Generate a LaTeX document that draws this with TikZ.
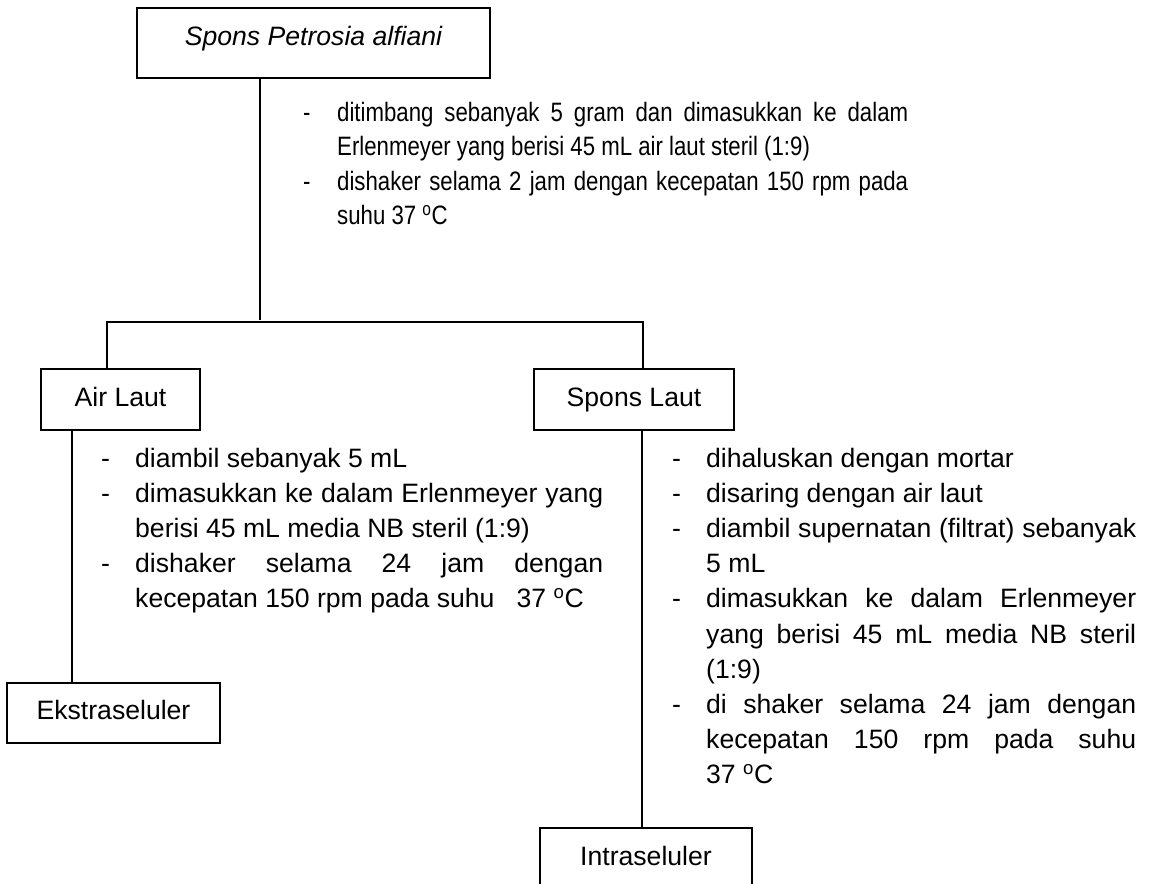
\documentclass[tikz,border=0pt]{standalone}
\usepackage{fontspec}
\setmainfont{Liberation Sans}
\newfontfamily\condfont[FakeStretch=0.835]{Liberation Sans}
\newlength{\dashw}\setlength{\dashw}{36pt}
\newlength{\tw}
\newcommand{\stJfirst}[1]{\noindent\makebox[\dashw][l]{\hspace{2pt}-}\makebox[\tw][s]{#1}\par}
\newcommand{\stJcont}[1]{\noindent\hspace*{\dashw}\makebox[\tw][s]{#1}\par}
\newcommand{\stLfirst}[1]{\noindent\makebox[\dashw][l]{\hspace{2pt}-}\makebox[\tw][l]{#1}\par}
\newcommand{\stLcont}[1]{\noindent\hspace*{\dashw}\makebox[\tw][l]{#1}\par}
\newcommand{\degC}{\textsuperscript{o}C}
\tikzset{
  box/.style={draw, line width=1.5pt, inner sep=0pt, align=center, text height=18.5pt, text depth=5.5pt},
  conn/.style={line width=1.5pt},
  steps/.style={inner sep=0pt, anchor=base west},
  txt/.style={font=\fontsize{26.6}{35.2}\selectfont}
}
\begin{document}
\begin{tikzpicture}[x=1pt,y=-1pt, txt]
\useasboundingbox (0,0) rectangle (1152,884);
% boxes
\node[box, text depth=14.5pt, minimum width=353pt, minimum height=70pt] (top) at (313.5,43) {\itshape Spons Petrosia alfiani};
\node[box, minimum width=159pt, minimum height=61pt] (air) at (120.5,399.5) {Air Laut};
\node[box, minimum width=200pt, minimum height=61pt] (spons) at (634,399.5) {Spons Laut};
\node[box, minimum width=213pt, minimum height=60pt] (ekstra) at (113.5,713) {Ekstraseluler};
\node[box, minimum width=212pt, minimum height=61pt] (intra) at (646,858.5) {Intraseluler};
% text blocks
\node[steps] (t1) at (301,121) {\setlength{\tw}{571pt}\parbox[t]{620pt}{\condfont\fontsize{26.6}{34.5}\selectfont
\stJfirst{ditimbang sebanyak 5 gram dan dimasukkan ke dalam}
\stLcont{Erlenmeyer yang berisi 45 mL air laut steril (1:9)}
\stJfirst{dishaker selama 2 jam dengan kecepatan 150 rpm pada}
\stLcont{suhu 37 \degC}}};
\node[steps] (t2) at (99,467) {\setlength{\tw}{468pt}\parbox[t]{520pt}{
\stLfirst{diambil sebanyak 5 mL}
\stJfirst{dimasukkan ke dalam Erlenmeyer yang}
\stLcont{berisi 45 mL media NB steril (1:9)}
\stJfirst{dishaker selama 24 jam dengan}
\stLcont{kecepatan 150 rpm pada suhu \ \ 37 \degC}}};
\node[steps] (t3) at (670,467) {\setlength{\tw}{430pt}\parbox[t]{480pt}{
\stLfirst{dihaluskan dengan mortar}
\stLfirst{disaring dengan air laut}
\stJfirst{diambil supernatan (filtrat) sebanyak}
\stLcont{5 mL}
\stJfirst{dimasukkan ke dalam Erlenmeyer}
\stJcont{yang berisi 45 mL media NB steril}
\stLcont{(1:9)}
\stJfirst{di shaker selama 24 jam dengan}
\stJcont{kecepatan 150 rpm pada suhu}
\stLcont{37 \degC}}};
% connectors
\coordinate (split) at (260,322);
\coordinate (aL) at (107,322);
\coordinate (sL) at (643,322);
\coordinate (aD) at (72,430);
\coordinate (sD) at (642,430);
\draw[conn] (split |- top.south) -- ([yshift=2pt]split);
\draw[conn] (aL |- air.north) -- (aL) -- (sL) -- (sL |- spons.north);
\draw[conn] (aD |- air.south) -- (aD |- ekstra.north);
\draw[conn] (sD |- spons.south) -- (sD |- intra.north);
\end{tikzpicture}
\end{document}
